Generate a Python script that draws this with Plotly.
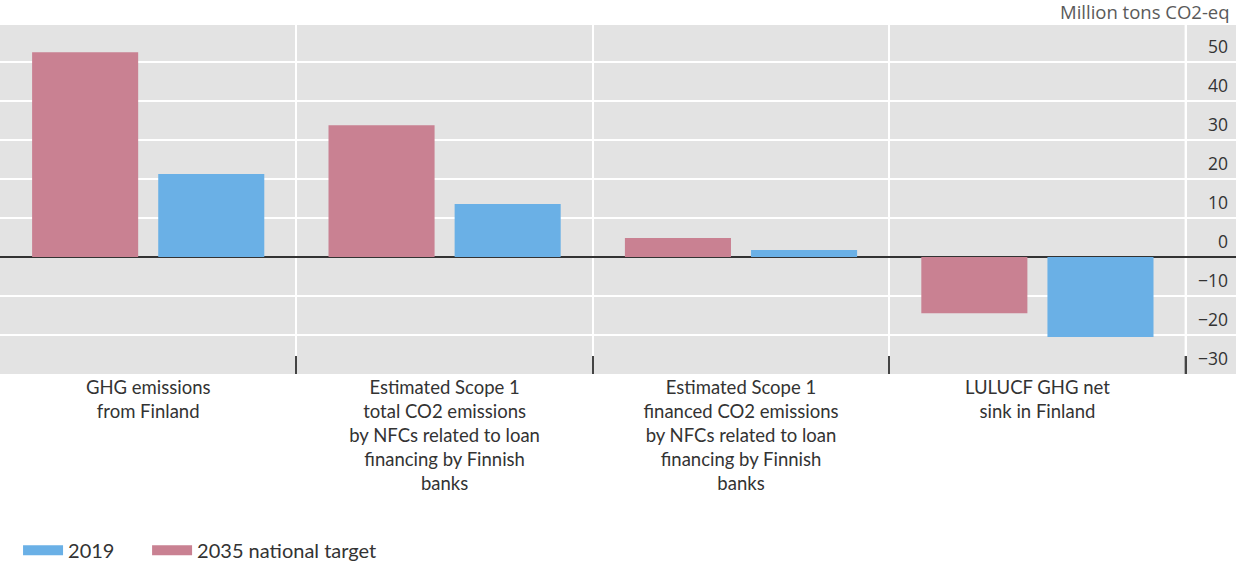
import plotly.graph_objects as go

categories = [
    "GHG emissions<br>from Finland",
    "Estimated Scope 1<br>total CO2 emissions<br>by NFCs related to loan<br>financing by Finnish<br>banks",
    "Estimated Scope 1<br>financed CO2 emissions<br>by NFCs related to loan<br>financing by Finnish<br>banks",
    "LULUCF GHG net<br>sink in Finland",
]
target_2035 = [52.5, 33.8, 4.9, -14.4]
values_2019 = [21.3, 13.6, 1.8, -20.5]
y_ticks = [-30, -20, -10, 0, 10, 20, 30, 40, 50]
y_ticklabels = ["\u221230", "\u221220", "\u221210", "0", "10", "20", "30", "40", "50"]

PINK = "#c98192"
BLUE = "#6ab0e6"
FONT = "Open Sans, Noto Sans, sans-serif"
LABEL_FONT = "Lato, Open Sans, sans-serif"

fig = go.Figure()
fig.add_trace(go.Bar(x=categories, y=target_2035, name="2035 national target",
                     marker=dict(color=PINK, line=dict(width=0)), showlegend=False))
fig.add_trace(go.Bar(x=categories, y=values_2019, name="2019",
                     marker=dict(color=BLUE, line=dict(width=0)), showlegend=False))
# legend entries (wide rectangular swatches), one legend each for exact placement
fig.add_trace(go.Scatter(x=[None], y=[None], mode="lines", name="2019",
                         line=dict(color=BLUE, width=12), legend="legend"))
fig.add_trace(go.Scatter(x=[None], y=[None], mode="lines", name="2035 national target",
                         line=dict(color=PINK, width=12), legend="legend2"))

# last category boundary (gridline + tick) which the axis does not draw
fig.add_shape(type="line", xref="x", yref="y domain", x0=3.5, x1=3.5, y0=0, y1=1,
              line=dict(color="white", width=2), layer="below")
fig.add_shape(type="line", xref="x", yref="y domain", x0=3.5, x1=3.5, y0=0, y1=18 / 349,
              line=dict(color="#444444", width=2), layer="above")

legend_common = dict(orientation="h", y=-0.505, yanchor="middle", xanchor="left",
                     itemwidth=40,
                     font=dict(family=LABEL_FONT, size=20, color="#333333"),
                     bgcolor="rgba(0,0,0,0)")

fig.update_layout(
    width=1236, height=564,
    margin=dict(l=0, r=0, t=25, b=190, autoexpand=False),
    paper_bgcolor="white",
    plot_bgcolor="#e3e3e3",
    barmode="group",
    bargap=0.149,
    bargroupgap=0.159,
    font=dict(family=FONT, size=16, color="#333333"),
    showlegend=True,
    legend=dict(x=0.0146, **legend_common),
    legend2=dict(x=0.119, **legend_common),
    xaxis=dict(
        type="category",
        range=[-0.5, 3.67],
        tickson="boundaries",
        ticks="inside", ticklen=18, tickwidth=2, tickcolor="#444444",
        showgrid=True, gridcolor="white", gridwidth=2,
        showline=False, zeroline=False,
        tickfont=dict(family=LABEL_FONT, size=18.5, color="#333333"),
    ),
    yaxis=dict(
        range=[-30, 59.5],
        side="right",
        tickmode="array", tickvals=y_ticks, ticktext=y_ticklabels,
        ticklabelposition="inside",
        ticklabelstandoff=5,
        ticklabelshift=-15,
        ticks="",
        showgrid=True, gridcolor="white", gridwidth=2,
        zeroline=True, zerolinecolor="#333333", zerolinewidth=2,
        showline=False,
        tickfont=dict(size=17.5, color="#333333"),
    ),
    annotations=[dict(text="Million tons CO2-eq", xref="paper", yref="paper",
                      x=1, y=1, xanchor="right", yanchor="bottom", yshift=-1, xshift=-4,
                      showarrow=False, font=dict(size=18.5, color="#5a5a5a"))],
)

fig.write_html("out.html", config={"displayModeBar": False},
               post_script="document.body.style.margin='0';")
